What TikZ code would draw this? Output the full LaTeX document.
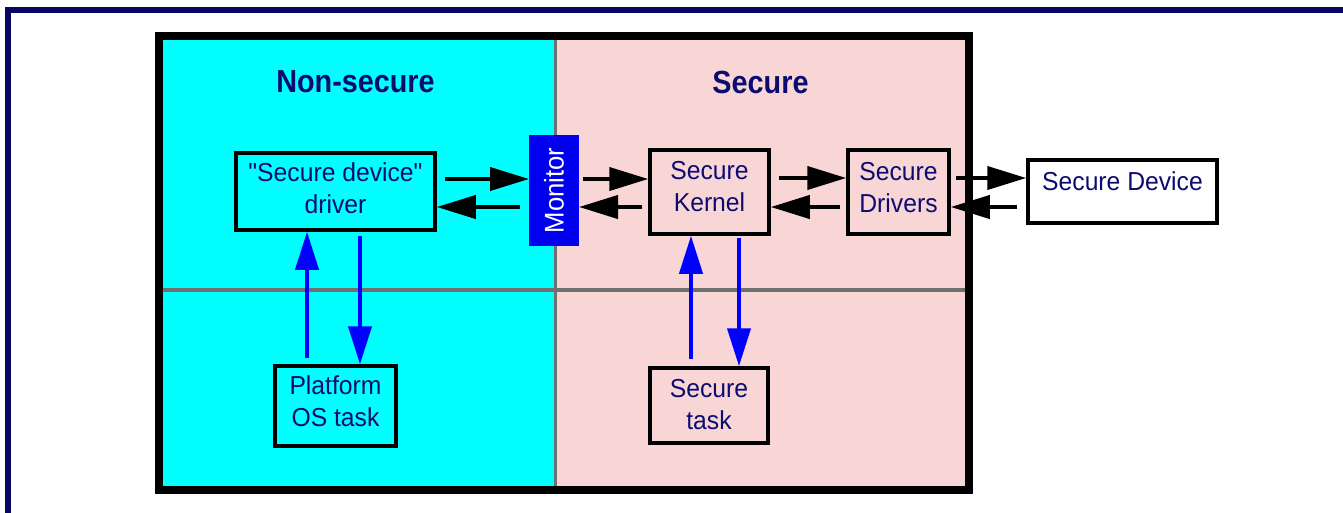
\documentclass[tikz,border=0pt]{standalone}
\usepackage{fontspec}
\setmainfont{Liberation Sans}[FakeStretch=0.9]
\newfontfamily\bodyfont{Liberation Sans}[FakeStretch=0.95]
\usetikzlibrary{arrows.meta}

\definecolor{ink}{RGB}{12,12,112}
\definecolor{framecol}{RGB}{8,8,100}
\definecolor{nsfill}{RGB}{0,255,255}
\definecolor{sfill}{RGB}{249,214,214}
\definecolor{divider}{RGB}{112,112,112}
\definecolor{monblue}{RGB}{0,0,238}
\definecolor{callblue}{RGB}{0,0,255}

\begin{document}
\begin{tikzpicture}[x=1pt,y=-1pt,
  box/.style={draw=black, line width=3.5pt, inner sep=0pt, text=ink,
    font=\bodyfont\fontsize{26}{32}\selectfont, align=center, text height=51pt, text depth=8pt},
  title/.style={text=ink, font=\fontsize{32}{38}\selectfont\bfseries},
  flow/.style={draw=black, line width=4pt, -{Triangle[length=39pt,width=23pt]}},
  call/.style={draw=callblue, line width=4pt, -{Triangle[length=38pt,width=23pt]}}]

\useasboundingbox (0,0) rectangle (1343,512);

% page frame, running off the right and bottom edges
\begin{scope}
  \clip (0,0) rectangle (1343,512);
  \draw[framecol, line width=6pt] (8,10) rectangle (1400,600);
\end{scope}

% the two worlds
\fill[nsfill] (159,36) rectangle (555,490);
\fill[sfill] (555,36) rectangle (969,490);
\draw[divider, line width=3pt] (555,36) -- (555,490);
\draw[divider, line width=4pt] (159,290) -- (969,290);
\draw[black, line width=8pt] (159,36) rectangle (969,490);

\node[title] (nstitle) at (355.5,82) {Non-secure};
\node[title] (stitle) at (760.5,82) {Secure};

% components
\node[box, text depth=7pt, minimum width=199pt, minimum height=77pt] (drv) at (335.5,191.5)
  {"Secure device"\\driver};
\node[fill=monblue, inner sep=0pt, outer sep=0pt, minimum width=50pt, minimum height=111pt,
  text=white, font=\bodyfont\fontsize{27}{32}\selectfont] (mon) at (554,190.5)
  {\rotatebox{90}{Monitor}};
\node[box, text depth=12pt, minimum width=119pt, minimum height=84pt] (ker) at (709.5,192)
  {Secure\\Kernel};
\node[box, text depth=10pt, minimum width=101pt, minimum height=84pt] (sdrv) at (898.5,192)
  {Secure\\Drivers};
\node[box, fill=white, minimum width=189pt, minimum height=63pt] (dev) at (1122.5,191.5) {};
\node[text=ink, font=\bodyfont\fontsize{26}{32}\selectfont] (devtxt) at (1122.5,181) {Secure Device};
\node[box, text depth=10pt, minimum width=121pt, minimum height=80pt] (pos) at (335.5,406)
  {Platform\\OS task};
\node[box, text depth=4pt, minimum width=118pt, minimum height=75pt] (stask) at (709,405.5)
  {Secure\\task};

% request / reply paths
\draw[flow, shorten <=8pt] (drv.east |- 0,179) -- (mon.west |- 0,179);
\draw[flow, shorten <=9pt] (mon.west |- 0,207) -- (drv.east |- 0,207);
\draw[flow, shorten <=4pt] (mon.east |- 0,179) -- (ker.west |- 0,179);
\draw[flow, shorten <=6pt] (ker.west |- 0,207) -- (mon.east |- 0,207);
\draw[flow, shorten <=8pt] (ker.east |- 0,178) -- (sdrv.west |- 0,178);
\draw[flow, shorten <=6pt] (sdrv.west |- 0,207) -- (ker.east |- 0,207);
\draw[flow, shorten <=5pt] (sdrv.east |- 0,178) -- (dev.west |- 0,178);
\draw[flow, shorten <=9pt] (dev.west |- 0,207) -- (sdrv.east |- 0,207);

% task calls
\draw[call, shorten <=6pt] (pos.north -| 307,0) -- (drv.south -| 307,0);
\draw[call, shorten <=4pt] (drv.south -| 360,0) -- (pos.north -| 360,0);
\draw[call, shorten <=7pt] (stask.north -| 691,0) -- (ker.south -| 691,0);
\draw[call, shorten <=2pt] (ker.south -| 739,0) -- (stask.north -| 739,0);
\end{tikzpicture}
\end{document}
